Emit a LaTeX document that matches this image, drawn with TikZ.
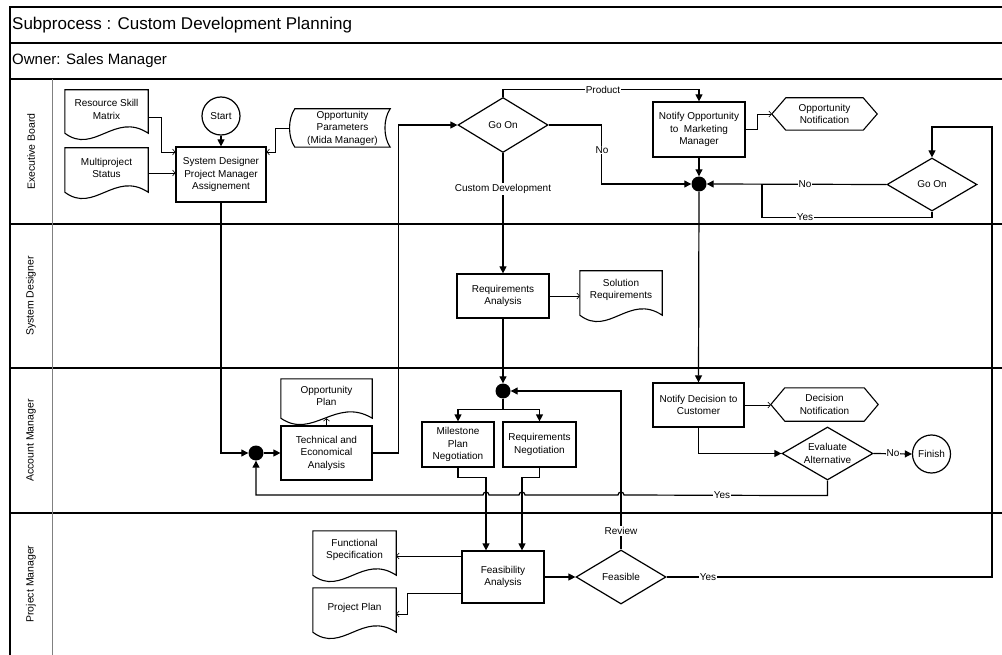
\documentclass[tikz,border=0pt]{standalone}
\usepackage{fontspec}
\setmainfont{Liberation Sans}
\usetikzlibrary{shapes.geometric,arrows.meta,calc}

% document symbol: straight top and sides, wavy bottom edge
\newcommand\drawdoc[1]{%
  \draw[outline] (#1.south west) -- (#1.north west) -- (#1.north east) -- (#1.south east)
    .. controls ($(#1.south east)!0.4!(#1.south west)+(0,-22)$)
           and ($(#1.south east)!0.65!(#1.south west)+(0,22)$) .. (#1.south west) -- cycle;}
% display symbol: hexagon pointed on both sides
\newcommand\drawhex[1]{%
  \draw[outline] (#1.west) -- ($(#1.north west)+(14,0)$) -- ($(#1.north east)+(-14,0)$)
    -- (#1.east) -- ($(#1.south east)+(-14,0)$) -- ($(#1.south west)+(14,0)$) -- cycle;}
% stored data symbol
\newcommand\drawstored[1]{%
  \draw[outline] (#1.north west) -- (#1.north east)
    .. controls ($(#1.north east)+(-7,10)$) and ($(#1.south east)+(-7,-10)$) .. (#1.south east)
    -- (#1.south west)
    .. controls ($(#1.south west)+(-7,-10)$) and ($(#1.north west)+(-7,10)$) .. (#1.north west) -- cycle;}

\begin{document}
\begin{tikzpicture}[x=1pt,y=-1pt,
  every node/.style={font=\fontsize{10}{12.5}\selectfont, inner sep=0pt},
  procbox/.style={rectangle, draw, line width=1.2pt, fill=white, align=center},
  outline/.style={draw, line width=1.1pt},
  docholder/.style={rectangle, align=center},
  doctext/.style={align=center},
  decision/.style={diamond, aspect=1.7, draw, line width=1.2pt, fill=white, align=center},
  termcircle/.style={circle, draw, line width=1.2pt, fill=white, minimum size=38pt},
  joint/.style={circle, fill=black, minimum size=15pt},
  ctrlflow/.style={line width=1.2pt, -{Triangle[length=7pt,width=7pt]}},
  plainline/.style={line width=1.2pt},
  dataflow/.style={line width=0.6pt, -{Straight Barb[length=2.5pt,width=6pt]}},
  edgelabel/.style={fill=white, inner sep=1pt},
  laneline/.style={line width=1.1pt},
  lanename/.style={rotate=90, font=\fontsize{10.5}{12.5}\selectfont},
]
\useasboundingbox (0,0) rectangle (1002,655);

% frame, header rows and swimlanes
\draw[laneline] (1002,7) -- (10,7) -- (10,655);
\foreach \yy in {43,79,224,368,513} \draw[laneline] (10,\yy) -- (1002,\yy);
\draw[line width=0.8pt, gray] (52,79) -- (52,655);

\node[anchor=west, font=\fontsize{17}{20}\selectfont] (title) at (12,25) {Subprocess : Custom Development Planning};
\node[anchor=west, font=\fontsize{15}{18}\selectfont] (owner) at (12,61) {Owner: Sales Manager};

\node[lanename] (laneEB) at (31,151.5) {Executive Board};
\node[lanename] (laneSD) at (31,296) {System Designer};
\node[lanename] (laneAM) at (31,440.5) {Account Manager};
\node[lanename] (lanePM) at (31,584) {Project Manager};

% Executive Board
\node[termcircle] (start) at (221,116) {Start};
\node[procbox, minimum width=90pt, minimum height=55pt] (sdpm) at (221,174.5) {System Designer\\Project Manager\\Assignement};
\node[docholder, minimum width=83pt, minimum height=43pt] (rsm) at (106.5,111.5) {};
\node[doctext] (rsmtext) at (106.5,109.5) {Resource Skill\\Matrix};
\node[docholder, minimum width=83pt, minimum height=44pt] (mps) at (106.5,170) {};
\node[doctext] (mpstext) at (106.5,168) {Multiproject\\Status};
\node[docholder, minimum width=95pt, minimum height=38pt] (opp) at (342.5,128) {Opportunity\\Parameters\\(Mida Manager)};
\node[decision, minimum width=90pt, minimum height=55pt] (goon1) at (503,125) {Go On};
\node[procbox, minimum width=92pt, minimum height=55pt] (nom) at (699,129.5) {Notify Opportunity\\to~~Marketing\\Manager};
\node[docholder, minimum width=105pt, minimum height=32pt] (oppnot) at (824.5,114) {Opportunity\\Notification};
\node[joint] (j1) at (699,184) {};
\node[decision, minimum width=90pt, minimum height=53pt] (goon2) at (932,184.5) {Go On};

% System Designer
\node[procbox, minimum width=92pt, minimum height=44pt] (reqa) at (503,296) {Requirements\\Analysis};
\node[docholder, minimum width=82pt, minimum height=44pt] (solreq) at (621,293) {};
\node[doctext] (solreqtext) at (621,290) {Solution\\Requirements};

% Account Manager
\node[docholder, minimum width=91pt, minimum height=39pt] (opplan) at (326.5,398.5) {};
\node[doctext] (opplantext) at (326.5,396) {Opportunity\\Plan};
\node[procbox, minimum width=91pt, minimum height=54pt] (tea) at (326.5,453) {Technical and\\Economical\\Analysis};
\node[joint] (j3) at (256,453) {};
\node[joint] (j2) at (503,391) {};
\node[procbox, minimum width=72pt, minimum height=45pt] (msn) at (458,444.5) {Milestone\\Plan\\Negotiation};
\node[procbox, minimum width=73pt, minimum height=45pt] (rqn) at (539.5,444.5) {Requirements\\Negotiation};
\node[procbox, minimum width=91pt, minimum height=44pt] (nodc) at (698.5,405) {Notify Decision to\\Customer};
\node[docholder, minimum width=107pt, minimum height=33pt] (decnot) at (824.5,404.5) {Decision\\Notification};
\node[decision, minimum width=91pt, minimum height=53pt] (evalt) at (827.5,453.5) {Evaluate\\Alternative};
\node[termcircle] (finish) at (931.5,454) {Finish};

% Project Manager
\node[procbox, minimum width=82pt, minimum height=52pt] (feas) at (503,577) {Feasibility\\Analysis};
\node[decision, minimum width=90pt, minimum height=54pt] (feasible) at (621,577) {Feasible};
\node[docholder, minimum width=83pt, minimum height=44pt] (fspec) at (354.5,553) {};
\node[doctext] (fspectext) at (354.5,550) {Functional\\Specification};
\node[docholder, minimum width=83pt, minimum height=44pt] (pplan) at (354.5,610) {};
\node[doctext] (pplantext) at (354.5,607.5) {Project Plan};

% symbol outlines
\drawdoc{rsm}
\drawdoc{mps}
\drawdoc{solreq}
\drawdoc{opplan}
\drawdoc{fspec}
\drawdoc{pplan}
\drawstored{opp}
\drawhex{oppnot}
\drawhex{decnot}

% connectors: Executive Board
\draw[dataflow] ($(rsm.east)+(0,5.5)$) -- ++(13,0) |- ($(sdpm.west)+(0,-22.5)$);
\draw[dataflow] ($(mps.east)+(0,3)$) -- ($(sdpm.west)+(0,-1.5)$);
\draw[dataflow] ($(opp.west)+(-5,0)$) -- ++(-15,0) |- ($(sdpm.east)+(0,-22.5)$);
\draw[ctrlflow] (start.south) -- (sdpm.north);
\draw[ctrlflow] (sdpm.south) |- (j3.west);
\draw[ctrlflow] (goon1.north) -- ++(0,-7.5) -| (nom.north);
\draw[ctrlflow] (goon1.east) -- ++(53,0) |- (j1.west);
\draw[ctrlflow] (goon1.south) -- (reqa.north);
\draw[dataflow] (nom.east) -- ++(12,0) |- (oppnot.west);
\draw[ctrlflow] (nom.south) -- (j1.north);
\draw[ctrlflow] (goon2.west) -- (j1.east);
\coordinate (yesjoin) at (762,184);
\draw[plainline] (goon2.south) -- ++(0,6) -| (yesjoin);
\coordinate (looptop) at (992,127);
\draw[ctrlflow] (feasible.east) -| (looptop) -| (goon2.north);
\draw[ctrlflow] (j1.south) -- (nodc.north);

% connectors: System Designer
\draw[dataflow] (reqa.east) -- (reqa.east -| solreq.west);
\draw[ctrlflow] (reqa.south) -- (j2.north);

% connectors: Account Manager
\draw[ctrlflow] (j3.east) -- (tea.west);
\draw[dataflow] (tea.north) -- (opplan.south);
\draw[ctrlflow] (tea.east) -- ++(26,0) |- (goon1.west);
\draw[ctrlflow] (j2.south) -- ++(0,11) -| (msn.north);
\draw[ctrlflow] (j2.south) -- ++(0,11) -| (rqn.north);
\coordinate (feasin1) at ($(feas.north)+(-17,0)$);
\coordinate (feasin2) at ($(feas.north)+(19,0)$);
\draw[ctrlflow] (msn.south) -- ++(0,10) -| (feasin1);
\draw[ctrlflow] (rqn.south) -- ++(0,10) -| (feasin2);
\draw[dataflow] (nodc.east) -- (nodc.east -| decnot.west);
\draw[ctrlflow] (nodc.south) |- (evalt.west);
\draw[ctrlflow] (evalt.east) -- (finish.west);
\draw[ctrlflow] (evalt.south) -- ++(0,15) -- (624,495)
  arc[start angle=0, end angle=180, radius=3pt] -- (525,495)
  arc[start angle=0, end angle=180, radius=3pt] -- (489,495)
  arc[start angle=0, end angle=180, radius=3pt] -- (j3.south |- 0,495) -- (j3.south);

% connectors: Project Manager
\draw[ctrlflow] (feas.east) -- (feasible.west);
\draw[ctrlflow] (feasible.north) |- (j2.east);
\coordinate (fsout) at ($(feas.west)+(0,-21)$);
\draw[dataflow] (fsout) -- (fsout -| fspec.east);
\coordinate (ppout) at ($(feas.west)+(0,16)$);
\draw[dataflow] (ppout) -- ++(-54,0) |- ($(pplan.east)+(0,4)$);

% connector labels
\node[edgelabel] (lprod) at (603,90) {Product};
\node[edgelabel] (lno1) at (602,150) {No};
\node[edgelabel] (lcd) at (503,189) {Custom Development};
\node[edgelabel] (lno2) at (805,184) {No};
\node[edgelabel] (lyes2) at (805,217) {Yes};
\node[edgelabel] (lyes3) at (722,495) {Yes};
\node[edgelabel] (lno3) at (893,453.5) {No};
\node[edgelabel] (lrev) at (621,531) {Review};
\node[edgelabel] (lyes4) at (708,577) {Yes};
\end{tikzpicture}
\end{document}
